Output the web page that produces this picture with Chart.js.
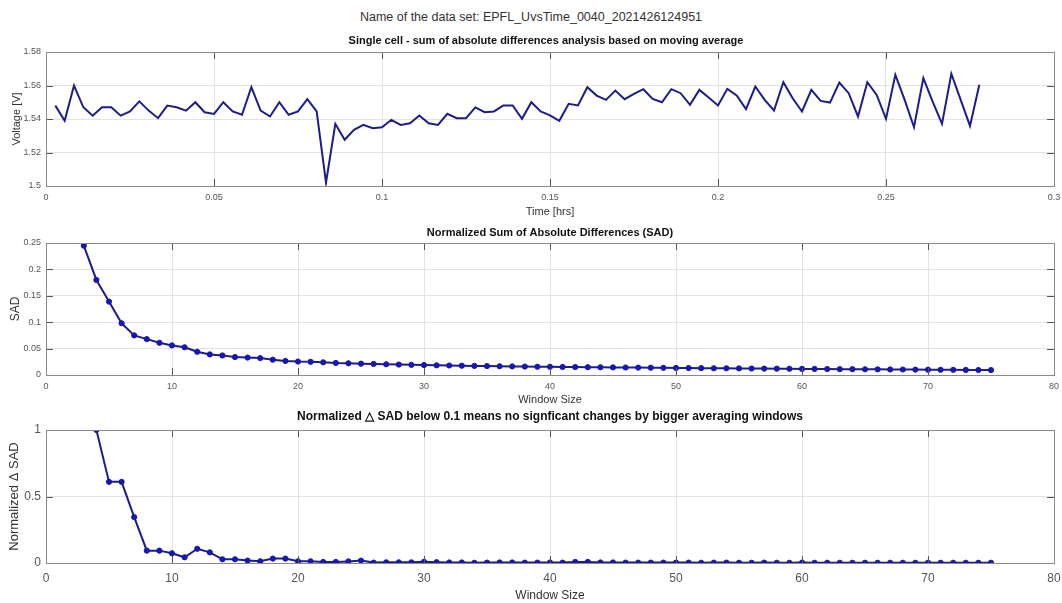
<!DOCTYPE html>
<html>
<head>
<meta charset="utf-8">
<script src="https://cdn.jsdelivr.net/npm/chart.js@4.4.1/dist/chart.umd.min.js"></script>
<style>
  body { margin: 0; background: #fff; }
  #wrap { position: relative; width: 1062px; height: 603px; overflow: hidden; }
  #wrap canvas { position: absolute; left: 0; }
  #suptitle {
    position: absolute; left: 0; top: 10px; width: 1062px; text-align: center;
    font: 12.5px "Liberation Sans", Arial, sans-serif; color: #333;
  }
</style>
</head>
<body>
<div id="wrap">
  <div id="suptitle">Name of the data set: EPFL_UvsTime_0040_2021426124951</div>
  <canvas id="voltage-chart" width="1062" height="222" style="top:0"></canvas>
  <canvas id="sad-chart" width="1062" height="186" style="top:222px"></canvas>
  <canvas id="delta-chart" width="1062" height="195" style="top:408px"></canvas>
</div>
<script>
const FONT = "'Liberation Sans', Arial, sans-serif";
const LINE_COLOR = '#1c1c8c';
const MARKER_COLOR = '#1414c8';

// Moving-average voltage, one sample every 10 s
const SAMPLE_STEP_S = 10;
const voltages = [
  1.548, 1.539, 1.560, 1.547, 1.542, 1.547, 1.547, 1.542, 1.5445, 1.5505,
  1.545, 1.5405, 1.548, 1.547, 1.545, 1.550, 1.544, 1.543, 1.550, 1.5445,
  1.5425, 1.559, 1.545, 1.5415, 1.550, 1.5425, 1.5445, 1.5518, 1.5445, 1.502,
  1.5371, 1.5276, 1.5335, 1.5365, 1.5345, 1.5351, 1.5395, 1.5365, 1.5375, 1.5421,
  1.5375, 1.5365, 1.5431, 1.5405, 1.5405, 1.5469, 1.5441, 1.5445, 1.5481, 1.5481,
  1.5401, 1.5500, 1.5445, 1.5422, 1.5389, 1.5491, 1.5481, 1.559, 1.554, 1.5514,
  1.557, 1.5518, 1.555, 1.5578, 1.552, 1.550, 1.5578, 1.5554, 1.5485, 1.5574,
  1.5528, 1.5481, 1.558, 1.554, 1.5459, 1.5594, 1.5514, 1.5451, 1.562, 1.5524,
  1.5445, 1.5574, 1.5508, 1.5498, 1.5618, 1.5554, 1.5415, 1.562, 1.5544, 1.5401,
  1.5664, 1.5514, 1.5351, 1.5644, 1.5504, 1.5371, 1.567, 1.5514, 1.5359, 1.5604
];

// Normalized SAD for window sizes 3..75
const SAD_FIRST_WINDOW = 3;
const sadValues = [
  0.245, 0.180, 0.139, 0.098, 0.075, 0.068, 0.061, 0.056, 0.0525, 0.044,
  0.039, 0.037, 0.034, 0.033, 0.032, 0.029, 0.0266, 0.0255, 0.025, 0.024,
  0.0228, 0.0222, 0.0215, 0.021, 0.0203, 0.0198, 0.0192, 0.0188, 0.0183, 0.018,
  0.0176, 0.0172, 0.0169, 0.0166, 0.0163, 0.016, 0.0157, 0.0155, 0.0152, 0.015,
  0.0148, 0.0146, 0.0144, 0.0142, 0.014, 0.0138, 0.0136, 0.0134, 0.0132, 0.013,
  0.0128, 0.0127, 0.0125, 0.0123, 0.0121, 0.012, 0.0118, 0.0116, 0.0115, 0.0113,
  0.0111, 0.011, 0.0108, 0.0107, 0.0105, 0.0104, 0.0102, 0.0101, 0.0099, 0.0098,
  0.0096, 0.0095, 0.0093
];

// Normalized delta SAD for window sizes 4..75
const DELTA_FIRST_WINDOW = 4;
const deltaSadValues = [
  1.0, 0.61, 0.61, 0.345, 0.093, 0.093, 0.073, 0.043, 0.107, 0.08,
  0.028, 0.028, 0.018, 0.013, 0.033, 0.033, 0.013, 0.013, 0.008, 0.008,
  0.012, 0.018, 0.003, 0.005, 0.005, 0.005, 0.009, 0.006, 0.004, 0.004,
  0.002, 0.003, 0.004, 0.004, 0.003, 0.003, 0.004, 0.003, 0.008, 0.008,
  0.004, 0.004, 0.003, 0.003, 0.003, 0.003, 0.003, 0.003, 0.002, 0.003,
  0.003, 0.002, 0.002, 0.003, 0.002, 0.002, 0.003, 0.002, 0.002, 0.002,
  0.002, 0.002, 0.002, 0.002, 0.002, 0.002, 0.002, 0.002, 0.002, 0.002,
  0.002, 0.002
];

const voltagePoints = voltages.map((v, i) => ({ x: (i + 1) * SAMPLE_STEP_S / 3600, y: v }));
const sadPoints = sadValues.map((v, i) => ({ x: SAD_FIRST_WINDOW + i, y: v }));
const deltaPoints = deltaSadValues.map((v, i) => ({ x: DELTA_FIRST_WINDOW + i, y: v }));

const fmt = v => String(Number(v.toFixed(3)));

// Box around the axes, inward tick marks and the panel title
const axesBox = {
  id: 'axesBox',
  afterDraw(chart, args, opts) {
    const { ctx, chartArea: a, scales } = chart;
    ctx.save();
    ctx.strokeStyle = '#555';
    ctx.lineWidth = 1;
    const tl = 7;
    scales.x.ticks.forEach((t, i) => {
      const px = Math.round(scales.x.getPixelForTick(i)) + 0.5;
      ctx.beginPath();
      ctx.moveTo(px, a.bottom); ctx.lineTo(px, a.bottom - tl);
      ctx.moveTo(px, a.top); ctx.lineTo(px, a.top + tl);
      ctx.stroke();
    });
    scales.y.ticks.forEach((t, i) => {
      const py = Math.round(scales.y.getPixelForTick(i)) + 0.5;
      ctx.beginPath();
      ctx.moveTo(a.left, py); ctx.lineTo(a.left + tl, py);
      ctx.moveTo(a.right, py); ctx.lineTo(a.right - tl, py);
      ctx.stroke();
    });
    ctx.strokeStyle = '#8a8a8a';
    ctx.strokeRect(Math.round(a.left) + 0.5, Math.round(a.top) + 0.5,
      Math.round(a.right - a.left), Math.round(a.bottom - a.top));
    ctx.fillStyle = '#111';
    ctx.font = `bold ${opts.size}px ${FONT}`;
    ctx.textAlign = 'center';
    ctx.textBaseline = 'middle';
    ctx.fillText(opts.text, (a.left + a.right) / 2 + (opts.dx || 0), a.top - opts.gap);
    ctx.restore();
  }
};

function makePanel(canvasId, cfg) {
  return new Chart(document.getElementById(canvasId), {
    type: 'line',
    data: {
      datasets: [{
        data: cfg.points,
        borderColor: LINE_COLOR,
        borderWidth: 2,
        pointRadius: cfg.markers ? 2.6 : 0,
        pointBackgroundColor: MARKER_COLOR,
        pointBorderColor: LINE_COLOR,
        pointBorderWidth: 1,
        tension: 0
      }]
    },
    options: {
      responsive: false,
      animation: false,
      layout: { padding: { top: cfg.padTop, left: 0, right: 8, bottom: 0 } },
      plugins: {
        legend: { display: false },
        tooltip: { enabled: false },
        axesBox: cfg.title
      },
      scales: {
        x: {
          type: 'linear',
          min: cfg.xMin, max: cfg.xMax,
          afterFit: s => {
            s.height = cfg.xAxisHeight;
            // let the last tick label hang past the plot edge
            s.paddingLeft = 0;
            s.paddingRight = 0;
          },
          border: { display: false },
          grid: { color: '#e3e3e3', drawTicks: false },
          ticks: {
            stepSize: cfg.xStep, padding: cfg.tickPad, maxRotation: 0,
            color: '#555', font: { family: FONT, size: cfg.tickSize },
            callback: fmt
          },
          title: {
            display: true, text: cfg.xTitle, color: '#333',
            font: { family: FONT, size: cfg.axisTitleSize },
            padding: { top: 0, bottom: cfg.xTitlePad }
          }
        },
        y: {
          min: cfg.yMin, max: cfg.yMax,
          afterFit: s => {
            s.width = 46;
            s.paddingTop = 0;
            s.paddingBottom = 0;
          },
          border: { display: false },
          grid: { color: '#e3e3e3', drawTicks: false },
          ticks: {
            stepSize: cfg.yStep, padding: 5,
            color: '#555', font: { family: FONT, size: cfg.tickSize },
            callback: fmt
          },
          title: {
            display: true, text: cfg.yTitle, color: '#333',
            font: { family: FONT, size: cfg.yTitleSize },
            padding: { top: cfg.yTitlePad, bottom: 0 }
          }
        }
      }
    },
    plugins: [axesBox]
  });
}

makePanel('voltage-chart', {
  points: voltagePoints, markers: false,
  padTop: 52, xAxisHeight: 36,
  xMin: 0, xMax: 0.3, xStep: 0.05,
  yMin: 1.5, yMax: 1.58, yStep: 0.02,
  tickSize: 9, tickPad: 6, axisTitleSize: 11, xTitlePad: 3,
  xTitle: 'Time [hrs]', yTitle: 'Voltage [V]', yTitleSize: 11, yTitlePad: 10,
  title: { text: 'Single cell - sum of absolute differences analysis based on moving average', size: 11, gap: 11, dx: -4 }
});

makePanel('sad-chart', {
  points: sadPoints, markers: true,
  padTop: 21, xAxisHeight: 33,
  xMin: 0, xMax: 80, xStep: 10,
  yMin: 0, yMax: 0.25, yStep: 0.05,
  tickSize: 9, tickPad: 6, axisTitleSize: 11, xTitlePad: 1,
  xTitle: 'Window Size', yTitle: 'SAD', yTitleSize: 12, yTitlePad: 8,
  title: { text: 'Normalized Sum of Absolute Differences (SAD)', size: 11, gap: 10, dx: 0 }
});

makePanel('delta-chart', {
  points: deltaPoints, markers: true,
  padTop: 22, xAxisHeight: 40,
  xMin: 0, xMax: 80, xStep: 10,
  yMin: 0, yMax: 1, yStep: 0.5,
  tickSize: 12, tickPad: 8, axisTitleSize: 12, xTitlePad: 0,
  xTitle: 'Window Size', yTitle: 'Normalized \u0394 SAD', yTitleSize: 13, yTitlePad: 7,
  title: { text: 'Normalized \u25B3 SAD below 0.1 means no signficant changes by bigger averaging windows', size: 12, gap: 13, dx: 0 }
});
</script>
</body>
</html>
